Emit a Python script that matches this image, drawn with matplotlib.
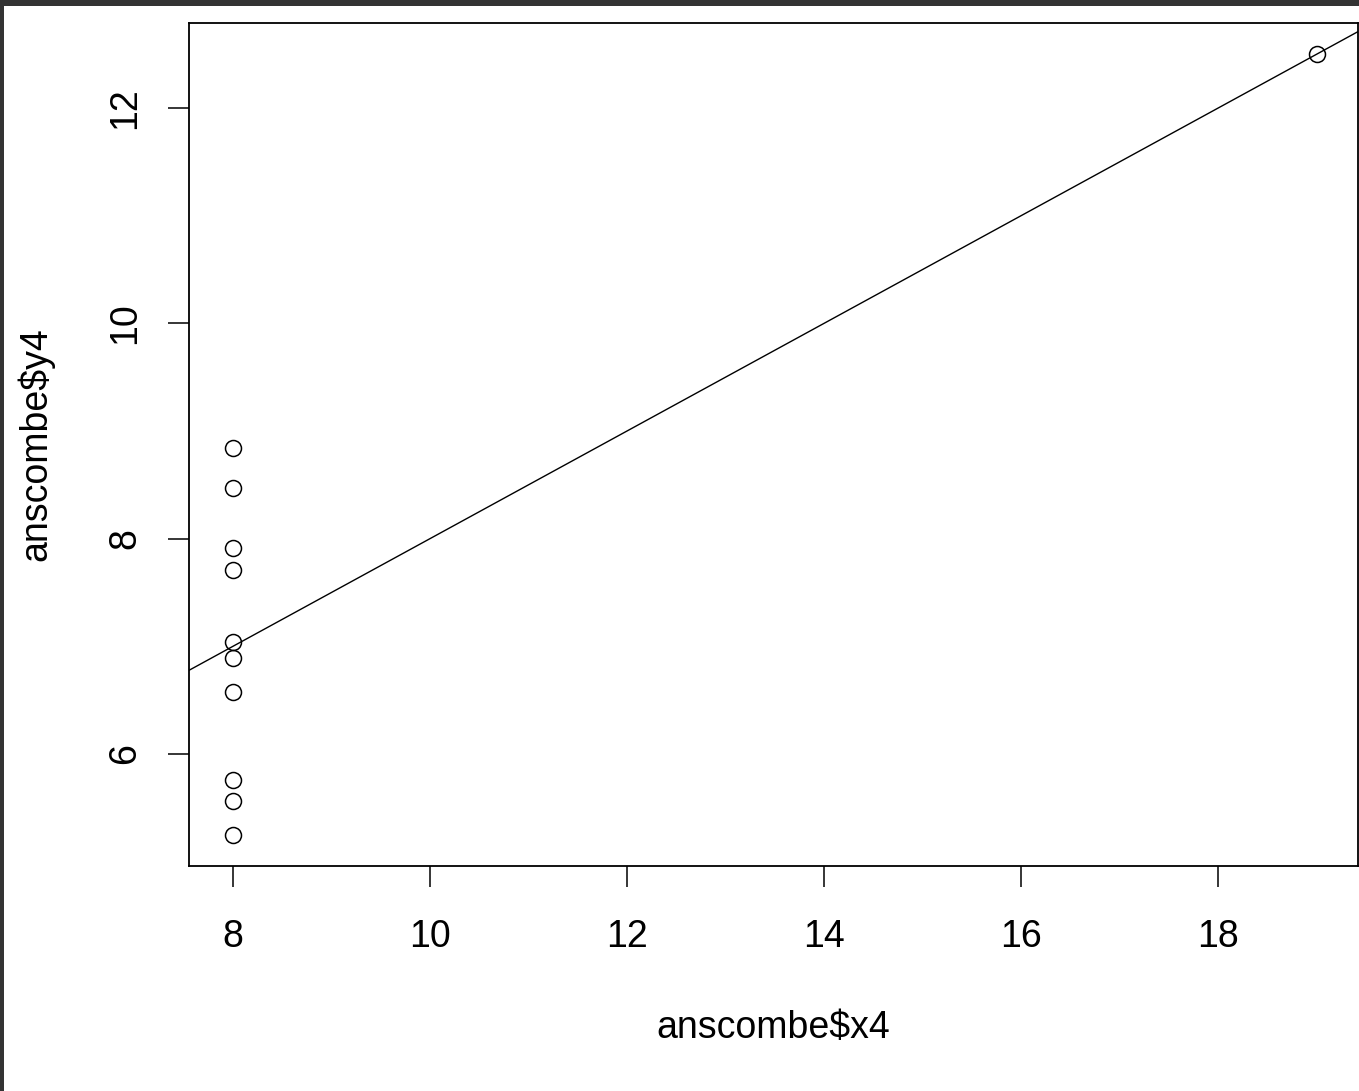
import numpy as np
import matplotlib.pyplot as plt
from matplotlib.patches import Rectangle

# Anscombe quartet, set 4
x4 = [8, 8, 8, 8, 8, 8, 8, 19, 8, 8, 8]
y4 = [6.58, 5.76, 7.71, 8.84, 8.47, 7.04, 5.25, 12.50, 5.56, 7.91, 6.89]

xticks = [8, 10, 12, 14, 16, 18]
yticks = [6, 8, 10, 12]

W, H = 1359, 1091
plt.rcParams['font.family'] = ['Liberation Sans', 'DejaVu Sans']

fig = plt.figure(figsize=(W / 100, H / 100), dpi=100, facecolor='#333333')
# white drawing area inside the dark window frame
fig.patches.append(Rectangle((4 / W, 0), 1, (H - 6) / H, transform=fig.transFigure,
                             facecolor='white', edgecolor='none', zorder=-1))

ax = fig.add_axes([189 / W, (H - 866) / H, (1358 - 189) / W, (866 - 23) / H])
ax.set_facecolor('white')

ax.plot(x4, y4, linestyle='none', marker='o', markersize=11.5,
        markerfacecolor='none', markeredgecolor='black', markeredgewidth=1.1)

# lm(y4 ~ x4)
slope, intercept = np.polyfit(x4, y4, 1)
ax.axline((0, intercept), slope=slope, color='black', linewidth=1.0)

ax.set_xlim(7.553, 19.42)
ax.set_ylim(4.96, 12.79)
ax.set_xticks(xticks)
ax.set_yticks(yticks)
ax.set_xticklabels([str(t) for t in xticks])
ax.set_yticklabels([str(t) for t in yticks], rotation=90, va='center')
ax.tick_params(direction='out', length=15, width=1.1, labelsize=27)
ax.tick_params(axis='x', pad=23)
ax.tick_params(axis='y', pad=18)

for s in ax.spines.values():
    s.set_linewidth(1.3)

ax.set_xlabel('anscombe$x4', fontsize=27, labelpad=40)
ax.set_ylabel('anscombe$y4', fontsize=27, labelpad=38)

fig.savefig('out.png', dpi=100, facecolor=fig.get_facecolor())
